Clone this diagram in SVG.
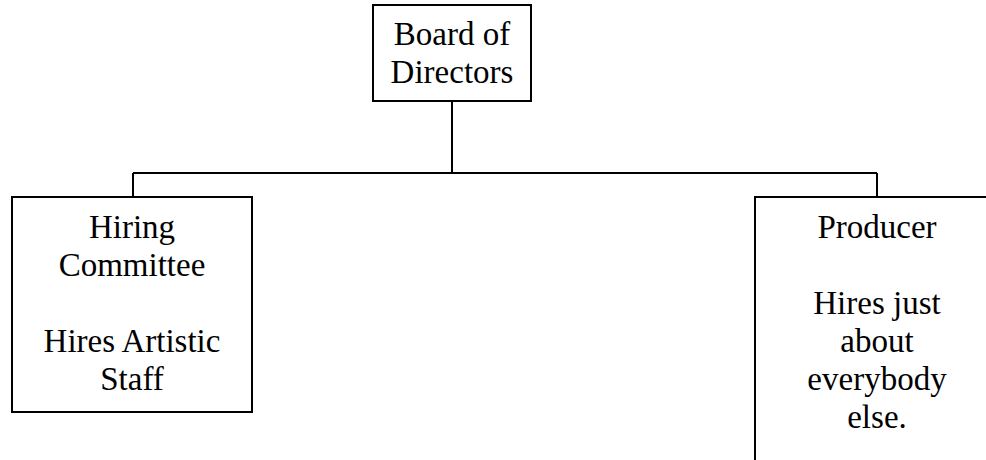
<svg xmlns="http://www.w3.org/2000/svg" width="986" height="460" viewBox="0 0 986 460">
<style>
.box{fill:#fff;stroke:#000;stroke-width:2}
.conn{fill:none;stroke:#000;stroke-width:2}
text{font-family:"Liberation Serif","Times New Roman",serif;font-size:33px;fill:#000;text-anchor:middle}
</style>
<rect width="986" height="460" fill="#fff"/>
<g id="connectors">
<path class="conn" d="M452,101 V173 M133,173 H877 M133,173 V197 M877,173 V197"/>
</g>
<g id="board">
<rect class="box" x="373" y="5" width="158" height="96"/>
<text x="452" y="45">Board of</text>
<text x="452" y="83">Directors</text>
</g>
<g id="hiring">
<rect class="box" x="12" y="197" width="240" height="215"/>
<text x="132" y="238">Hiring</text>
<text x="132" y="276">Committee</text>
<text x="132" y="352">Hires Artistic</text>
<text x="132" y="390">Staff</text>
</g>
<g id="producer">
<rect class="box" x="755" y="197" width="260" height="300"/>
<text x="877" y="238">Producer</text>
<text x="877" y="314">Hires just</text>
<text x="877" y="352">about</text>
<text x="877" y="390">everybody</text>
<text x="877" y="428">else.</text>
</g>
</svg>
